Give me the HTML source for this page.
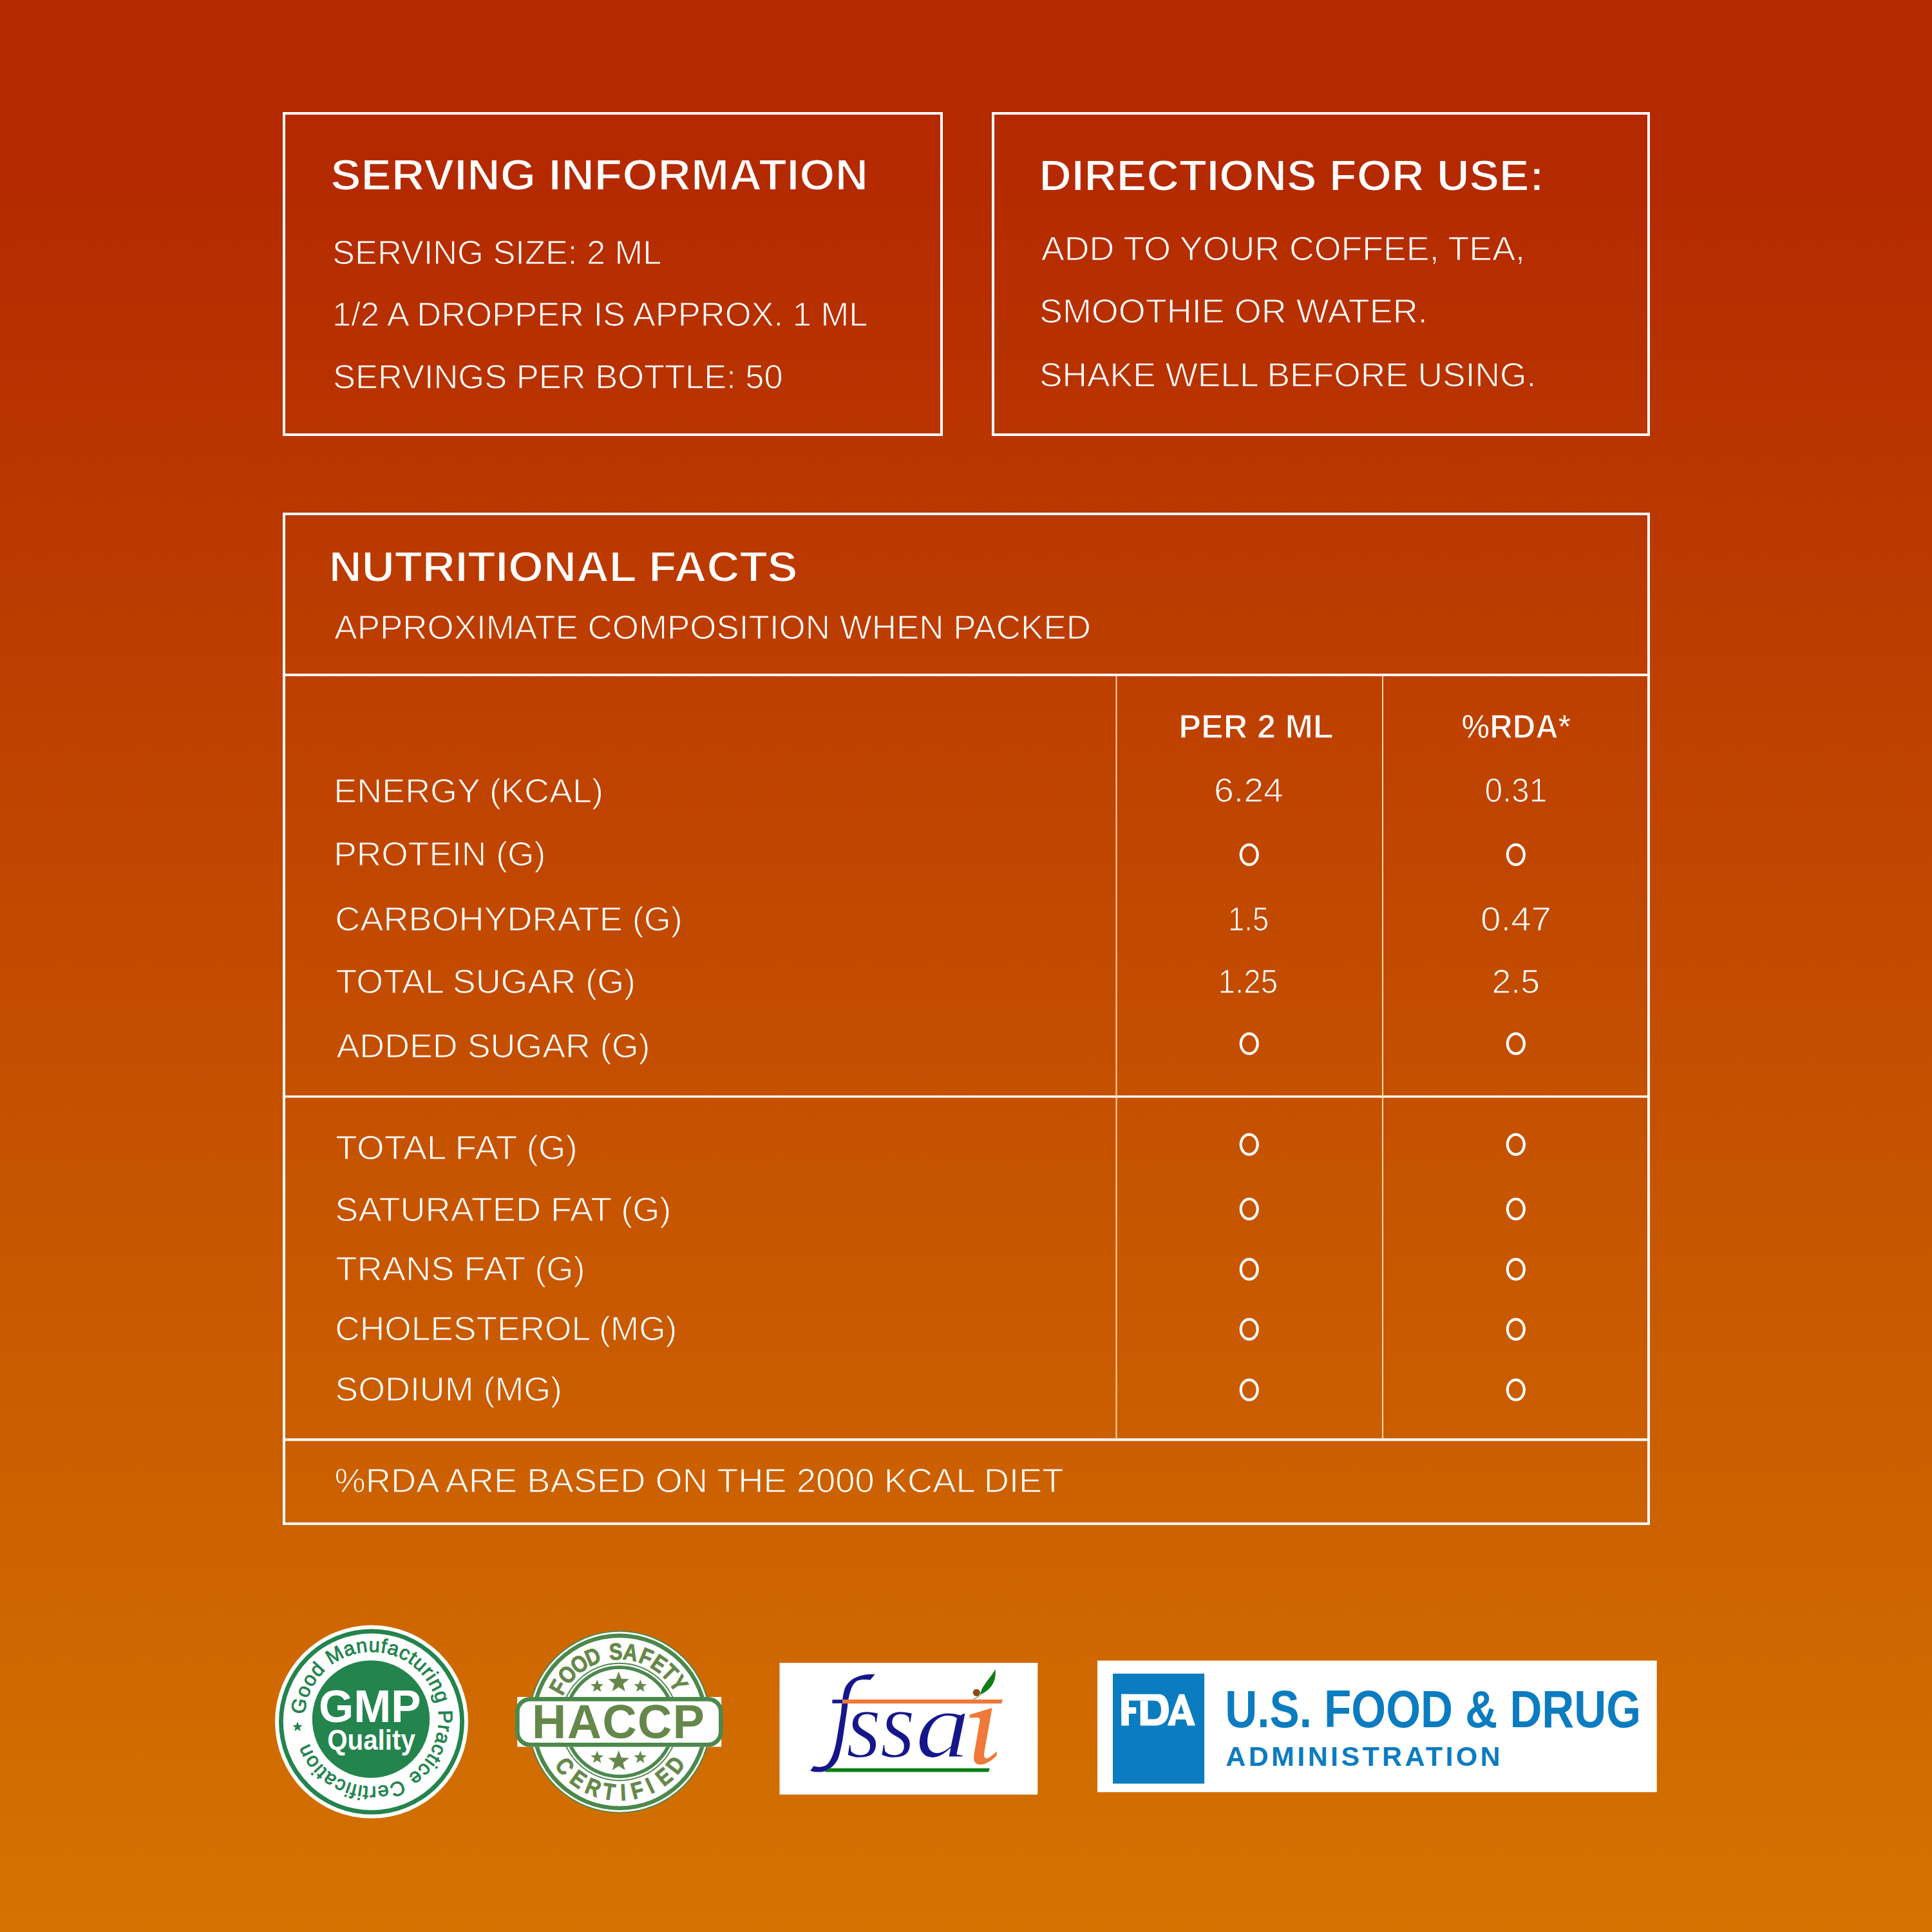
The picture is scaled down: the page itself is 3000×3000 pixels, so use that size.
<!DOCTYPE html>
<html><head><meta charset="utf-8"><title>Nutrition</title>
<style>
html,body{margin:0;padding:0;}
body{width:3000px;height:3000px;overflow:hidden;position:relative;font-family:"Liberation Sans",sans-serif;
background:linear-gradient(to bottom,#b42900 0%,#b42900 8%,#d47300 100%);}
</style></head><body>
<svg xmlns="http://www.w3.org/2000/svg" width="3000" height="3000" viewBox="0 0 3000 3000" style="position:absolute;left:0;top:0"><g fill="none" stroke="#ffffff" stroke-width="4"><rect x="441" y="176" width="1021" height="499"/><rect x="1542" y="176" width="1018" height="499"/><rect x="441" y="798" width="2119" height="1568"/></g><rect x="439" y="1046" width="2123" height="4" fill="#ffffff"/><rect x="439" y="1701" width="2123" height="3.5" fill="#ffffff"/><rect x="439" y="2233.5" width="2123" height="4" fill="#ffffff"/><rect x="1732.5" y="1050" width="2" height="1184" fill="#ffd8b0"/><rect x="2146" y="1050" width="2" height="1184" fill="#ffd8b0"/><text transform="matrix(1.0366 0 0 1 513.19 295.20)" font-family="Liberation Sans" font-weight="bold" font-style="normal" font-size="68.60" fill="#ffffff" stroke="#b52a00" stroke-width="2.0">SERVING INFORMATION</text><text transform="matrix(0.9955 0 0 1 516.02 410.00)" font-family="Liberation Sans" font-weight="normal" font-style="normal" font-size="52.62" fill="#ffffff" stroke="#b62e00" stroke-width="1.2">SERVING SIZE: 2 ML</text><text transform="matrix(0.9976 0 0 1 516.01 505.90)" font-family="Liberation Sans" font-weight="normal" font-style="normal" font-size="52.62" fill="#ffffff" stroke="#b73000" stroke-width="1.2">1/2 A DROPPER IS APPROX. 1 ML</text><text transform="matrix(0.9971 0 0 1 517.01 602.70)" font-family="Liberation Sans" font-weight="normal" font-style="normal" font-size="52.62" fill="#ffffff" stroke="#b83300" stroke-width="1.2">SERVINGS PER BOTTLE: 50</text><text transform="matrix(1.0190 0 0 1 1613.49 295.50)" font-family="Liberation Sans" font-weight="bold" font-style="normal" font-size="68.60" fill="#ffffff" stroke="#b52a00" stroke-width="2.0">DIRECTIONS FOR USE:</text><text transform="matrix(1.0206 0 0 1 1616.98 403.60)" font-family="Liberation Sans" font-weight="normal" font-style="normal" font-size="52.62" fill="#ffffff" stroke="#b62d00" stroke-width="1.2">ADD TO YOUR COFFEE, TEA,</text><text transform="matrix(1.0260 0 0 1 1613.90 501.40)" font-family="Liberation Sans" font-weight="normal" font-style="normal" font-size="52.62" fill="#ffffff" stroke="#b73000" stroke-width="1.2">SMOOTHIE OR WATER.</text><text transform="matrix(1.0133 0 0 1 1613.95 599.70)" font-family="Liberation Sans" font-weight="normal" font-style="normal" font-size="52.62" fill="#ffffff" stroke="#b83300" stroke-width="1.2">SHAKE WELL BEFORE USING.</text><text transform="matrix(1.0466 0 0 1 510.72 902.80)" font-family="Liberation Sans" font-weight="bold" font-style="normal" font-size="67.44" fill="#ffffff" stroke="#bc3b00" stroke-width="2.0">NUTRITIONAL FACTS</text><text transform="matrix(1.0378 0 0 1 519.36 991.60)" font-family="Liberation Sans" font-weight="normal" font-style="normal" font-size="51.02" fill="#ffffff" stroke="#bd3d00" stroke-width="1.2">APPROXIMATE COMPOSITION WHEN PACKED</text><text transform="matrix(1.0130 0 0 1 1830.35 1146.10)" font-family="Liberation Sans" font-weight="bold" font-style="normal" font-size="51.45" fill="#ffffff" stroke="#bf4100" stroke-width="1.5">PER 2 ML</text><text transform="matrix(0.9563 0 0 1 2269.39 1146.10)" font-family="Liberation Sans" font-weight="bold" font-style="normal" font-size="51.45" fill="#ffffff" stroke="#bf4100" stroke-width="1.5">%RDA*</text><text transform="matrix(1.0579 0 0 1 518.21 1245.50)" font-family="Liberation Sans" font-weight="normal" font-style="normal" font-size="51.02" fill="#ffffff" stroke="#c04400" stroke-width="1.2">ENERGY (KCAL)</text><text transform="matrix(1.0454 0 0 1 518.27 1344.40)" font-family="Liberation Sans" font-weight="normal" font-style="normal" font-size="51.02" fill="#ffffff" stroke="#c14700" stroke-width="1.2">PROTEIN (G)</text><text transform="matrix(1.0596 0 0 1 520.32 1444.80)" font-family="Liberation Sans" font-weight="normal" font-style="normal" font-size="51.02" fill="#ffffff" stroke="#c24900" stroke-width="1.2">CARBOHYDRATE (G)</text><text transform="matrix(1.0552 0 0 1 521.39 1541.90)" font-family="Liberation Sans" font-weight="normal" font-style="normal" font-size="51.02" fill="#ffffff" stroke="#c34c00" stroke-width="1.2">TOTAL SUGAR (G)</text><text transform="matrix(1.0545 0 0 1 522.45 1641.50)" font-family="Liberation Sans" font-weight="normal" font-style="normal" font-size="51.02" fill="#ffffff" stroke="#c44f00" stroke-width="1.2">ADDED SUGAR (G)</text><text transform="matrix(1.0773 0 0 1 521.35 1799.70)" font-family="Liberation Sans" font-weight="normal" font-style="normal" font-size="51.02" fill="#ffffff" stroke="#c65300" stroke-width="1.2">TOTAL FAT (G)</text><text transform="matrix(1.0608 0 0 1 520.32 1895.70)" font-family="Liberation Sans" font-weight="normal" font-style="normal" font-size="51.02" fill="#ffffff" stroke="#c75500" stroke-width="1.2">SATURATED FAT (G)</text><text transform="matrix(1.0645 0 0 1 521.37 1988.00)" font-family="Liberation Sans" font-weight="normal" font-style="normal" font-size="51.02" fill="#ffffff" stroke="#c85800" stroke-width="1.2">TRANS FAT (G)</text><text transform="matrix(1.0449 0 0 1 520.37 2080.50)" font-family="Liberation Sans" font-weight="normal" font-style="normal" font-size="51.02" fill="#ffffff" stroke="#c95a00" stroke-width="1.2">CHOLESTEROL (MG)</text><text transform="matrix(1.0547 0 0 1 520.34 2174.70)" font-family="Liberation Sans" font-weight="normal" font-style="normal" font-size="51.02" fill="#ffffff" stroke="#ca5d00" stroke-width="1.2">SODIUM (MG)</text><text transform="matrix(1.0645 0 0 1 519.57 2316.80)" font-family="Liberation Sans" font-weight="normal" font-style="normal" font-size="51.02" fill="#ffffff" stroke="#cc6100" stroke-width="1.2">%RDA ARE BASED ON THE 2000 KCAL DIET</text><text transform="matrix(1.0883 0 0 1 1884.94 1245.00)" font-family="Liberation Sans" font-weight="normal" font-style="normal" font-size="51.02" fill="#ffffff" stroke="#c04400" stroke-width="1.2">6.24</text><text transform="matrix(0.8922 0 0 1 1907.03 1444.50)" font-family="Liberation Sans" font-weight="normal" font-style="normal" font-size="51.02" fill="#ffffff" stroke="#c24900" stroke-width="1.2">1.5</text><text transform="matrix(0.9344 0 0 1 1891.56 1541.60)" font-family="Liberation Sans" font-weight="normal" font-style="normal" font-size="51.02" fill="#ffffff" stroke="#c34c00" stroke-width="1.2">1.25</text><text transform="matrix(0.9753 0 0 1 2305.57 1245.00)" font-family="Liberation Sans" font-weight="normal" font-style="normal" font-size="51.02" fill="#ffffff" stroke="#c04400" stroke-width="1.2">0.31</text><text transform="matrix(1.1086 0 0 1 2298.97 1444.50)" font-family="Liberation Sans" font-weight="normal" font-style="normal" font-size="51.02" fill="#ffffff" stroke="#c24900" stroke-width="1.2">0.47</text><text transform="matrix(1.0508 0 0 1 2316.55 1541.60)" font-family="Liberation Sans" font-weight="normal" font-style="normal" font-size="51.02" fill="#ffffff" stroke="#c34c00" stroke-width="1.2">2.5</text><g fill="none" stroke="#ffffff" stroke-width="4.2"><ellipse cx="1939.75" cy="1327.10" rx="13.0" ry="15.55"/><ellipse cx="2353.8" cy="1327.10" rx="13.0" ry="15.55"/><ellipse cx="1939.75" cy="1620.60" rx="13.0" ry="15.55"/><ellipse cx="2353.8" cy="1620.60" rx="13.0" ry="15.55"/><ellipse cx="1939.75" cy="1777.10" rx="13.0" ry="15.55"/><ellipse cx="2353.8" cy="1777.10" rx="13.0" ry="15.55"/><ellipse cx="1939.75" cy="1877.30" rx="13.0" ry="15.55"/><ellipse cx="2353.8" cy="1877.30" rx="13.0" ry="15.55"/><ellipse cx="1939.75" cy="1970.90" rx="13.0" ry="15.55"/><ellipse cx="2353.8" cy="1970.90" rx="13.0" ry="15.55"/><ellipse cx="1939.75" cy="2064.10" rx="13.0" ry="15.55"/><ellipse cx="2353.8" cy="2064.10" rx="13.0" ry="15.55"/><ellipse cx="1939.75" cy="2158.10" rx="13.0" ry="15.55"/><ellipse cx="2353.8" cy="2158.10" rx="13.0" ry="15.55"/></g><g><circle cx="577" cy="2673.6" r="150" fill="#ffffff"/><circle cx="577" cy="2673.6" r="140.6" fill="none" stroke="#23844d" stroke-width="6.8"/><circle cx="576" cy="2669.5" r="91.2" fill="#23844d"/><path id="gmparc" d="M473.23,2662.61 A104,104 0 1 1 680.77,2676.39 A104,104 0 1 1 473.23,2662.61" fill="none"/><text font-family="Liberation Sans" font-size="31" fill="#23844d" stroke="#23844d" stroke-width="0.9" letter-spacing="0.9"><textPath href="#gmparc">Good Manufacturing Practice Certification</textPath></text><path d="M462.00,2673.30 L464.02,2678.71 L469.80,2678.97 L465.28,2682.56 L466.82,2688.13 L462.00,2684.94 L457.18,2688.13 L458.72,2682.56 L454.20,2678.97 L459.98,2678.71Z" fill="#23844d"/><text transform="matrix(0.9980 0 0 1 495.11 2673.70)" font-family="Liberation Sans" font-weight="bold" font-style="normal" font-size="69.77" fill="#ffffff">GMP</text><text transform="matrix(0.8947 0 0 1 508.21 2716.60)" font-family="Liberation Sans" font-weight="bold" font-style="normal" font-size="45.06" fill="#ffffff">Quality</text></g><g><circle cx="962" cy="2673.75" r="141.75" fill="#4c884c"/><circle cx="962" cy="2673.75" r="139.9" fill="#ffffff"/><circle cx="962" cy="2673.75" r="137.2" fill="#4c884c"/><circle cx="962" cy="2673.75" r="130.85" fill="#ffffff"/><circle cx="962" cy="2673.75" r="91.00" fill="none" stroke="#4c884c" stroke-width="2.00"/><circle cx="962" cy="2673.75" r="84.75" fill="none" stroke="#4c884c" stroke-width="5.50"/><text transform="translate(877.58 2625.98) rotate(299.50) scale(0.86 1)" text-anchor="middle" font-family="Liberation Sans" font-weight="bold" font-size="36" fill="#65884a" stroke="#65884a" stroke-width="1">F</text><text transform="translate(890.14 2608.59) rotate(312.20) scale(0.86 1)" text-anchor="middle" font-family="Liberation Sans" font-weight="bold" font-size="36" fill="#65884a" stroke="#65884a" stroke-width="1">O</text><text transform="translate(906.64 2594.10) rotate(325.20) scale(0.86 1)" text-anchor="middle" font-family="Liberation Sans" font-weight="bold" font-size="36" fill="#65884a" stroke="#65884a" stroke-width="1">O</text><text transform="translate(925.19 2584.00) rotate(337.70) scale(0.86 1)" text-anchor="middle" font-family="Liberation Sans" font-weight="bold" font-size="36" fill="#65884a" stroke="#65884a" stroke-width="1">D</text><text transform="translate(956.75 2576.89) rotate(356.90) scale(0.86 1)" text-anchor="middle" font-family="Liberation Sans" font-weight="bold" font-size="36" fill="#65884a" stroke="#65884a" stroke-width="1">S</text><text transform="translate(977.17 2577.94) rotate(369.00) scale(0.86 1)" text-anchor="middle" font-family="Liberation Sans" font-weight="bold" font-size="36" fill="#65884a" stroke="#65884a" stroke-width="1">A</text><text transform="translate(998.81 2584.00) rotate(382.30) scale(0.86 1)" text-anchor="middle" font-family="Liberation Sans" font-weight="bold" font-size="36" fill="#65884a" stroke="#65884a" stroke-width="1">F</text><text transform="translate(1016.52 2593.52) rotate(394.20) scale(0.86 1)" text-anchor="middle" font-family="Liberation Sans" font-weight="bold" font-size="36" fill="#65884a" stroke="#65884a" stroke-width="1">E</text><text transform="translate(1031.19 2605.76) rotate(405.50) scale(0.86 1)" text-anchor="middle" font-family="Liberation Sans" font-weight="bold" font-size="36" fill="#65884a" stroke="#65884a" stroke-width="1">T</text><text transform="translate(1043.35 2620.92) rotate(417.00) scale(0.86 1)" text-anchor="middle" font-family="Liberation Sans" font-weight="bold" font-size="36" fill="#65884a" stroke="#65884a" stroke-width="1">Y</text><text transform="translate(867.19 2750.53) rotate(51.00) scale(0.86 1)" text-anchor="middle" font-family="Liberation Sans" font-weight="bold" font-size="36" fill="#65884a" stroke="#65884a" stroke-width="1">C</text><text transform="translate(890.81 2772.82) rotate(35.70) scale(0.86 1)" text-anchor="middle" font-family="Liberation Sans" font-weight="bold" font-size="36" fill="#65884a" stroke="#65884a" stroke-width="1">E</text><text transform="translate(916.50 2786.95) rotate(21.90) scale(0.86 1)" text-anchor="middle" font-family="Liberation Sans" font-weight="bold" font-size="36" fill="#65884a" stroke="#65884a" stroke-width="1">R</text><text transform="translate(943.76 2794.38) rotate(8.60) scale(0.86 1)" text-anchor="middle" font-family="Liberation Sans" font-weight="bold" font-size="36" fill="#65884a" stroke="#65884a" stroke-width="1">T</text><text transform="translate(968.17 2795.59) rotate(-2.90) scale(0.86 1)" text-anchor="middle" font-family="Liberation Sans" font-weight="bold" font-size="36" fill="#65884a" stroke="#65884a" stroke-width="1">I</text><text transform="translate(992.75 2791.81) rotate(-14.60) scale(0.86 1)" text-anchor="middle" font-family="Liberation Sans" font-weight="bold" font-size="36" fill="#65884a" stroke="#65884a" stroke-width="1">F</text><text transform="translate(1014.33 2783.96) rotate(-25.40) scale(0.86 1)" text-anchor="middle" font-family="Liberation Sans" font-weight="bold" font-size="36" fill="#65884a" stroke="#65884a" stroke-width="1">I</text><text transform="translate(1038.78 2768.56) rotate(-39.00) scale(0.86 1)" text-anchor="middle" font-family="Liberation Sans" font-weight="bold" font-size="36" fill="#65884a" stroke="#65884a" stroke-width="1">E</text><text transform="translate(1058.40 2748.52) rotate(-52.20) scale(0.86 1)" text-anchor="middle" font-family="Liberation Sans" font-weight="bold" font-size="36" fill="#65884a" stroke="#65884a" stroke-width="1">D</text><path d="M960.70,2595.50 L964.90,2606.72 L976.87,2607.25 L967.49,2614.71 L970.69,2626.25 L960.70,2619.64 L950.71,2626.25 L953.91,2614.71 L944.53,2607.25 L956.50,2606.72Z M927.20,2608.00 L929.79,2614.93 L937.19,2615.26 L931.39,2619.86 L933.37,2626.99 L927.20,2622.91 L921.03,2626.99 L923.01,2619.86 L917.21,2615.26 L924.61,2614.93Z M994.30,2608.00 L996.89,2614.93 L1004.29,2615.26 L998.49,2619.86 L1000.47,2626.99 L994.30,2622.91 L988.13,2626.99 L990.11,2619.86 L984.31,2615.26 L991.71,2614.93Z" fill="#65884a"/><path d="M960.70,2718.00 L964.90,2729.22 L976.87,2729.75 L967.49,2737.21 L970.69,2748.75 L960.70,2742.14 L950.71,2748.75 L953.91,2737.21 L944.53,2729.75 L956.50,2729.22Z M927.20,2718.50 L929.79,2725.43 L937.19,2725.76 L931.39,2730.36 L933.37,2737.49 L927.20,2733.41 L921.03,2737.49 L923.01,2730.36 L917.21,2725.76 L924.61,2725.43Z M994.30,2718.50 L996.89,2725.43 L1004.29,2725.76 L998.49,2730.36 L1000.47,2737.49 L994.30,2733.41 L988.13,2737.49 L990.11,2730.36 L984.31,2725.76 L991.71,2725.43Z" fill="#65884a"/><rect x="803.2" y="2635" width="317" height="77.4" fill="#ffffff"/><rect x="803.35" y="2638.35" width="316" height="70.9" rx="20" ry="20" fill="none" stroke="#4c884c" stroke-width="6.7"/><text x="825.90" y="2699.20" letter-spacing="1.53" font-family="Liberation Sans" font-weight="bold" font-size="73.69" fill="#65884a">HACCP</text></g><g><rect x="1210.5" y="2582.1" width="400.8" height="204.5" fill="#ffffff"/><path d="M1358.7,2599.8 C1340,2599 1320,2604 1312.1,2621.1 C1309,2630 1308,2640 1306,2660 L1298.7,2703.9 C1296,2718 1292,2732 1284.2,2740.1 C1278,2745 1268,2744 1263.5,2742.2 L1258.3,2749.4 C1262,2751.5 1268,2751.5 1275.9,2751.5 C1286,2750 1297,2742 1301.8,2729.8 C1305,2720 1306,2712 1308,2703.9 L1316,2650 C1318,2632 1322,2615 1331,2610 C1338,2607 1346,2608 1351.4,2608.6 Z" fill="#16168c"/><path d="M1287,2745.8 L1537,2745.8 L1535,2751.5 L1280,2751.5 Z" fill="#0e7d14"/><rect x="1292.4" y="2639.2" width="16" height="5.7" fill="#16168c"/><path d="M1308,2639 L1557,2639 L1555,2645.2 L1308,2645.2 Z" fill="#f07838"/><text transform="matrix(0.7029 0 0 0.7500 1313.79 2729.30)" font-family="Liberation Serif" font-style="italic" font-size="200" fill="#16168c" stroke="#ffffff" stroke-width="3">s</text><text transform="matrix(0.7029 0 0 0.7500 1366.59 2729.30)" font-family="Liberation Serif" font-style="italic" font-size="200" fill="#16168c" stroke="#ffffff" stroke-width="3">s</text><text transform="matrix(0.8488 0 0 0.7333 1421.61 2729.33)" font-family="Liberation Serif" font-style="italic" font-size="200" fill="#16168c" stroke="#ffffff" stroke-width="3">a</text><path d="M1505.9,2662.5 L1540.6,2652.1 L1528.5,2720 C1527,2728 1529,2732 1534,2730 C1538,2728 1543,2724 1547.8,2719.5 L1547.5,2726 C1540,2734 1530,2740 1522,2740.1 C1513,2740 1511,2733 1512.5,2724 L1521.5,2672 C1522,2668 1520,2666.5 1516,2667 L1505.6,2667.5 Z" fill="#f07838"/><circle cx="1516.3" cy="2628.3" r="5.6" fill="#8b4a16"/><path d="M1522,2631 C1524,2618 1538,2606 1545.5,2592 C1547,2606 1543,2622 1523,2631 Z" fill="#0e7d14"/><path d="M1511.5,2638.5 C1516,2636 1520,2635 1522.5,2631" fill="none" stroke="#0e7d14" stroke-width="1"/></g><g><rect x="1704" y="2578.6" width="868.7" height="204.2" fill="#ffffff"/><rect x="1728" y="2598.8" width="142.1" height="170.8" fill="#0c7cc0"/><g fill="#ffffff"><rect x="1741.2" y="2630.7" width="11.7" height="48.9"/><rect x="1741.2" y="2630.7" width="60" height="10"/><rect x="1741.2" y="2651" width="23" height="10"/><path d="M1770.7,2640.7 L1782.5,2640.7 L1782.5,2669.6 L1792,2669.6 C1800,2669.6 1803,2663 1803,2655 C1803,2645 1799,2640.7 1792,2640.7 L1801.8,2630.7 C1810,2632 1815,2642 1815,2655 C1815,2670 1808,2679.6 1793,2679.6 L1770.7,2679.6 Z"/><path d="M1812.7,2679.6 L1831,2630.7 L1839,2630.7 L1856.1,2679.6 L1844,2679.6 L1841,2670 L1826,2670 L1824.5,2679.6 Z M1829,2661 L1838.5,2661 L1834,2646 Z"/></g><text transform="matrix(0.8579 0 0 1 1902.31 2682.00)" font-family="Liberation Sans" font-weight="bold" font-style="normal" font-size="80.67" fill="#0c7cc0">U.S. FOOD &amp; DRUG</text><text x="1903.30" y="2741.70" letter-spacing="4.45" font-family="Liberation Sans" font-weight="bold" font-size="42.88" fill="#0c7cc0">ADMINISTRATION</text></g></svg>
</body></html>
